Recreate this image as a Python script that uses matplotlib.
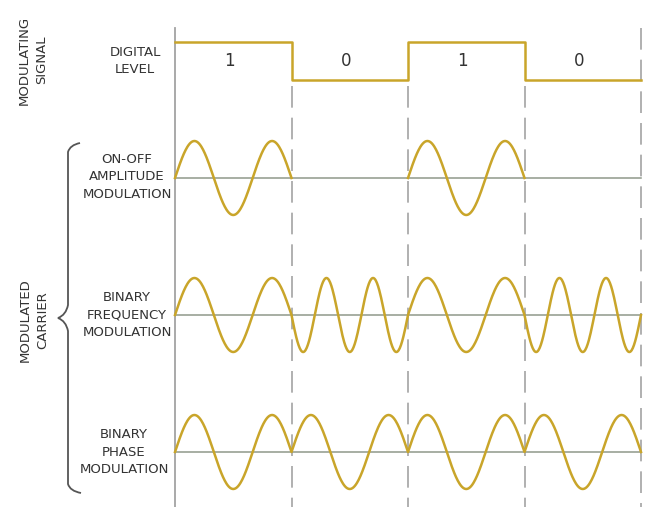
import numpy as np
import matplotlib.pyplot as plt
from matplotlib.path import Path
from matplotlib.patches import PathPatch

# data: one bit per interval
bits = [1, 0, 1, 0]
bit_labels = ['1', '0', '1', '0']
ook_amp = [1, 0, 1, 0]          # carrier on / off
fsk_halfcycles = [3, 5, 3, 5]   # half cycles per bit
fsk_sign = [1, -1, 1, -1]
psk_halfcycles = [3, 3, 3, 3]
psk_sign = [1, 1, 1, 1]

# layout (pixel units, y grows downward)
W, H = 647, 507
x0_px, bit_px = 175, 116.5
y_high, y_low = 42, 80
y_ook, y_fsk, y_psk = 178, 315, 452
amp = 37

wave_col = '#c9a52a'
base_col = '#8f988a'
vline_col = '#a3a3a3'
text_col = '#333333'


def px(x):
    return (x - x0_px) / bit_px


def wave(halfcycles, signs, amps, n=200):
    xs, ys = [], []
    for i, (h, s, a) in enumerate(zip(halfcycles, signs, amps)):
        t = np.linspace(0, 1, n)
        y = s * np.sin(h * np.pi * t)
        if a == 0:
            y = np.full(n, np.nan)   # carrier off: only the baseline shows
        xs.append(i + t)
        ys.append(y)
    return np.concatenate(xs), np.concatenate(ys)


fig = plt.figure(figsize=(W / 100, H / 100), dpi=100)
ax = fig.add_axes([0, 0, 1, 1])
ax.set_xlim(px(0), px(W))
ax.set_ylim(H, 0)
ax.axis('off')

nb = len(bits)

# bit boundaries
ax.plot([0, 0], [28, H], color=vline_col, lw=1.3)
for k in range(1, nb + 1):
    top = 28 if k == nb else 86
    ax.plot([k, k], [top, H], color=vline_col, lw=1.2,
            linestyle=(0, (13, 6)))

# digital level
sx = np.repeat(np.arange(nb + 1), 2)[1:-1]
sy = np.repeat([y_low + (y_high - y_low) * b for b in bits], 2)
ax.plot(sx, sy, color=wave_col, lw=1.8, solid_joinstyle='round')
for i, lab in enumerate(bit_labels):
    ax.text(i + 0.47, 61, lab, ha='center', va='center', fontsize=12,
            color=text_col, family='DejaVu Sans')

# baselines
for yb in (y_ook, y_fsk, y_psk):
    ax.plot([0, nb], [yb, yb], color=base_col, lw=1.1)

# modulated carriers
x, y = wave(fsk_halfcycles[:1] * nb, [1] * nb, ook_amp)
ax.plot(x, y_ook - amp * y, color=wave_col, lw=1.8)
x, y = wave(fsk_halfcycles, fsk_sign, [1] * nb)
ax.plot(x, y_fsk - amp * y, color=wave_col, lw=1.8)
x, y = wave(psk_halfcycles, psk_sign, [1] * nb)
ax.plot(x, y_psk - amp * y, color=wave_col, lw=1.8)

# labels
lab_kw = dict(ha='center', va='center', fontsize=9.5, color=text_col,
              linespacing=1.45, family='DejaVu Sans')
ax.text(px(135), 61, 'DIGITAL\nLEVEL', **lab_kw)
ax.text(px(127), 177, 'ON-OFF\nAMPLITUDE\nMODULATION', **lab_kw)
ax.text(px(127), 315, 'BINARY\nFREQUENCY\nMODULATION', **lab_kw)
ax.text(px(124), 452, 'BINARY\nPHASE\nMODULATION', **lab_kw)
ax.text(px(33), 60, 'MODULATING\nSIGNAL', rotation=90, **lab_kw)
ax.text(px(34), 320, 'MODULATED\nCARRIER', rotation=90, **lab_kw)

# brace
bx = [80, 70, 68, 68, 68, 66, 58, 66, 68, 68, 68, 70, 81]
by = [143, 145, 152, 200, 305, 315, 318, 321, 331, 430, 484, 491, 493]
codes = [Path.MOVETO, Path.CURVE3, Path.CURVE3, Path.LINETO,
         Path.LINETO, Path.CURVE3, Path.CURVE3, Path.CURVE3, Path.CURVE3,
         Path.LINETO, Path.LINETO, Path.CURVE3, Path.CURVE3]
verts = [(px(a), b) for a, b in zip(bx, by)]
ax.add_patch(PathPatch(Path(verts, codes), fill=False, color='#555555',
                       lw=1.3))

fig.savefig('out.png', dpi=100)
